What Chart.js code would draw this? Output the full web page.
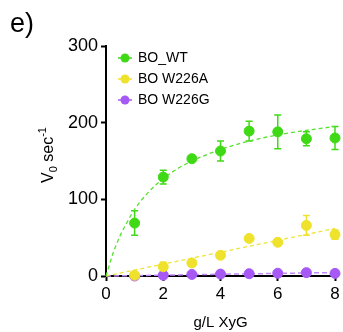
<!DOCTYPE html>
<html>
<head>
<meta charset="utf-8">
<script src="https://cdn.jsdelivr.net/npm/chart.js@4/dist/chart.umd.min.js"></script>
<style>
  html, body { margin: 0; padding: 0; background: #fff; }
  #wrap { width: 343px; height: 332px; }
</style>
</head>
<body>
<div id="wrap"><canvas id="kinetics-chart" width="343" height="332"></canvas></div>
<script>
// Substrate concentrations (g/L XyG)
const xValues = [1, 2, 3, 4, 5, 6, 7, 8];

// Measured V0 (sec^-1) with error bars
const wtMean = [69, 129, 153, 163, 189, 188, 179, 180];
const wtErr = [16, 9, 3, 13, 13, 22, 9, 15];
const w226aMean = [1, 12, 17, 27, 49, 44, 66, 54];
const w226aErr = [0, 6, 4, 0, 0, 0, 13, 6];
const w226gMean = [0, 1, 2, 2.5, 3, 3.6, 4.4, 3.4];
const w226gErr = [0, 0, 0, 0, 0, 0, 0, 0];

// Fitted curves (dashed)
const wtFitX = [0, 0.25, 0.5, 0.75, 1, 1.5, 2, 2.5, 3, 3.5, 4, 5, 6, 7, 8];
const wtFitY = [0, 30, 53, 71, 87, 110, 127, 140, 150, 158, 165, 176, 184, 190, 195];
const linFitX = [0, 8];
const w226aFitY = [0, 62];
const w226gFitY = [0, 4.5];

const seriesLabels = ['BO_WT', 'BO W226A', 'BO W226G'];
const yTicks = [0, 100, 200, 300];
const xTicks = [0, 2, 4, 6, 8];

const FONT = "'Liberation Sans', Arial, Helvetica, sans-serif";
const colors = ['#40d916', '#eee22c', '#a659f5'];
const fitColors = ['#58e030', '#f0e33a', '#c08af7'];

function pts(xs, ys) {
  return xs.map((x, i) => ({ x: x, y: ys[i] }));
}

const errs = [wtErr, w226aErr, w226gErr];

// Error bars, drawn behind the points
const errorBars = {
  id: 'errorBars',
  beforeDatasetsDraw(chart) {
    const ctx = chart.ctx;
    const xs = chart.scales.x, ys = chart.scales.y;
    [wtMean, w226aMean, w226gMean].forEach((means, s) => {
      ctx.save();
      ctx.strokeStyle = colors[s];
      ctx.lineWidth = 1.5;
      means.forEach((m, i) => {
        const e = errs[s][i];
        if (!e) return;
        const px = xs.getPixelForValue(xValues[i]);
        const top = ys.getPixelForValue(m + e);
        const bot = ys.getPixelForValue(Math.max(m - e, 0));
        ctx.beginPath();
        ctx.moveTo(px, top); ctx.lineTo(px, bot);
        ctx.moveTo(px - 3.5, top); ctx.lineTo(px + 3.5, top);
        ctx.moveTo(px - 3.5, bot); ctx.lineTo(px + 3.5, bot);
        ctx.stroke();
      });
      ctx.restore();
    });
  }
};

// Legend, panel letter and y-axis title with sub/superscript
const decorations = {
  id: 'decorations',
  afterDraw(chart) {
    const ctx = chart.ctx;
    ctx.save();
    ctx.fillStyle = '#000';
    ctx.font = '27px ' + FONT;
    ctx.textBaseline = 'alphabetic';
    ctx.fillText('e)', 10, 32);

    // legend
    ctx.font = '14px ' + FONT;
    ctx.textBaseline = 'middle';
    seriesLabels.forEach((lab, i) => {
      const y = 58 + i * 21;
      ctx.strokeStyle = colors[i];
      ctx.lineWidth = 1.5;
      ctx.beginPath(); ctx.moveTo(118, y); ctx.lineTo(132, y); ctx.stroke();
      ctx.fillStyle = colors[i];
      ctx.beginPath(); ctx.arc(125, y, 4.5, 0, Math.PI * 2); ctx.fill();
      ctx.fillStyle = '#000';
      ctx.fillText(lab, 138, y);
    });

    // y title: V0 sec-1
    const big = '16px ' + FONT, small = '11px ' + FONT;
    const parts = [['V', big, 0], ['0', small, 4], [' sec', big, 0], ['-1', small, -7]];
    let total = 0;
    parts.forEach(p => { ctx.font = p[1]; total += ctx.measureText(p[0]).width; });
    ctx.translate(53, 155);
    ctx.rotate(-Math.PI / 2);
    ctx.textBaseline = 'alphabetic';
    let x = -total / 2;
    parts.forEach(p => {
      ctx.font = p[1];
      ctx.fillText(p[0], x, p[2]);
      x += ctx.measureText(p[0]).width;
    });
    ctx.restore();
  }
};

const ctx = document.getElementById('kinetics-chart').getContext('2d');
new Chart(ctx, {
  data: {
    datasets: [
      { type: 'line', data: pts(wtFitX, wtFitY), borderColor: fitColors[0], borderWidth: 1.3, borderDash: [4, 3], pointRadius: 0, cubicInterpolationMode: 'monotone', fill: false, clip: false, order: 5 },
      { type: 'line', data: pts(linFitX, w226aFitY), borderColor: fitColors[1], borderWidth: 1.3, borderDash: [4, 3], pointRadius: 0, fill: false, clip: false, order: 5 },
      { type: 'line', data: pts(linFitX, w226gFitY), borderColor: fitColors[2], borderWidth: 1.5, borderDash: [5, 3], pointRadius: 0, fill: false, clip: false, order: 5 },
      { type: 'scatter', label: seriesLabels[2], data: pts(xValues, w226gMean), backgroundColor: colors[2], borderColor: colors[2], pointRadius: 5, clip: false, order: 3 },
      { type: 'scatter', label: seriesLabels[1], data: pts(xValues, w226aMean), backgroundColor: colors[1], borderColor: colors[1], pointRadius: 5, clip: false, order: 2 },
      { type: 'scatter', label: seriesLabels[0], data: pts(xValues, wtMean), backgroundColor: colors[0], borderColor: colors[0], pointRadius: 5, clip: false, order: 1 }
    ]
  },
  options: {
    responsive: false,
    animation: false,
    devicePixelRatio: 1,
    layout: { padding: { top: 46, right: 8, left: 0, bottom: 0 } },
    plugins: { legend: { display: false }, tooltip: { enabled: false } },
    scales: {
      x: {
        type: 'linear',
        min: 0, max: 8,
        afterBuildTicks: s => { s.ticks = xTicks.map(v => ({ value: v })); },
        afterFit: s => { s.height = 56; },
        ticks: { color: '#000', font: { size: 17, family: FONT }, padding: 3, maxRotation: 0 },
        grid: { display: true, drawOnChartArea: false, drawTicks: true, tickLength: 5, tickWidth: 2, tickColor: '#000' },
        border: { display: true, width: 2, color: '#000' },
        title: { display: true, text: 'g/L XyG', color: '#000', font: { size: 15, family: FONT }, padding: { top: 2, bottom: 0 } }
      },
      y: {
        type: 'linear',
        min: 0, max: 300,
        afterBuildTicks: s => { s.ticks = yTicks.map(v => ({ value: v })); },
        afterFit: s => { s.width = 106; },
        ticks: { color: '#000', font: { size: 18, family: FONT }, padding: 3 },
        grid: { display: true, drawOnChartArea: false, drawTicks: true, tickLength: 5, tickWidth: 2, tickColor: '#000' },
        border: { display: true, width: 2, color: '#000' }
      }
    }
  },
  plugins: [errorBars, decorations]
});
</script>
</body>
</html>
